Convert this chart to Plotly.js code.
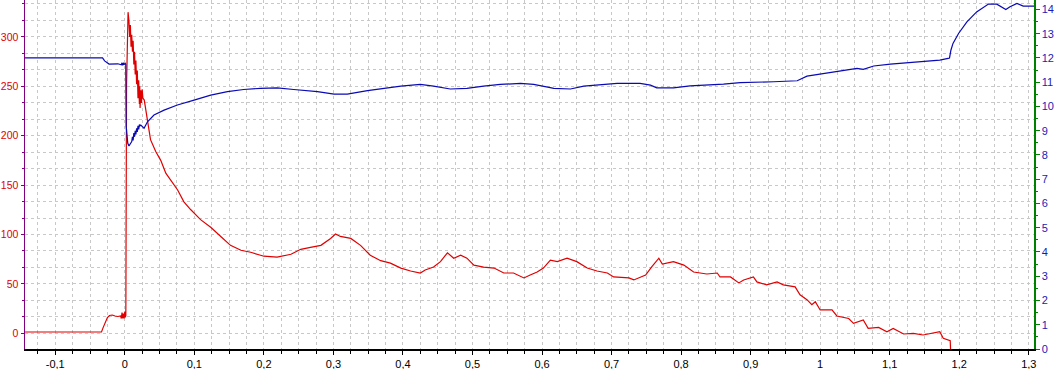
<!DOCTYPE html>
<html>
<head>
<meta charset="utf-8">
<script src="https://cdn.plot.ly/plotly-3.0.1.min.js"></script>
<style>
html,body{margin:0;padding:0;background:#fff;}
#chart{width:1054px;height:369px;}
</style>
</head>
<body>
<div id="chart"></div>
<script>
// ---- data ----
const redX = [-0.148,-0.0335,-0.031,-0.028,-0.025,-0.022,-0.018,-0.014,-0.010,-0.006,-0.005,-0.004,-0.003,-0.002,-0.001,0,0.0008,0.0015,0.0025,0.0035,0.0047,
  0.006,0.007,0.008,0.009,0.010,0.011,0.012,0.013,0.014,0.015,0.016,0.017,0.018,0.019,0.020,0.021,0.0215,0.022,0.023,0.024,0.025,0.026,0.028,
  0.0326,0.037,0.0445,0.0517,0.059,0.066,0.076,0.085,0.095,0.109,0.124,0.138,0.152,0.167,0.181,0.2,0.219,0.239,0.253,0.267,0.282,0.296,0.303,0.310,
  0.325,0.339,0.353,0.368,0.382,0.397,0.411,0.425,0.432,0.444,0.454,0.464,0.473,0.483,0.492,0.502,0.516,0.531,0.545,0.559,0.574,0.583,0.593,0.602,
  0.612,0.622,0.636,0.650,0.665,0.679,0.694,0.703,0.713,0.725,0.732,0.749,0.758,0.768,0.773,0.789,0.804,0.818,0.837,0.852,0.856,0.871,0.883,0.890,
  0.904,0.909,0.923,0.938,0.947,0.964,0.971,0.981,0.988,0.993,1.0,1.017,1.024,1.041,1.048,1.062,1.069,1.084,1.096,1.105,1.120,1.134,1.148,1.172,
  1.177,1.187,1.188];
const redY = [1.3,1.3,6,12,16,18,18.5,17.5,17,17.5,15,21,15,20,15,22,16,18,250,310,325,
  316,300,312,290,302,285,296,272,285,262,276,252,266,238,256,232,250,228,246,233,247,238,236,
  216,196,184,175,162,155,145,133,125,115,107,98,89,84,82,78,77,80,85,87,89,96,100.5,98,
  96,89,79,73.5,71,66,63,61,64,67,72.5,81.5,76,79,76,69,67,66,61,61,56,59,62,66,
  74,72.5,76,72.5,66,63,61,57,56.7,56,54,59,67.4,76,70,72.5,69,62,60,61,57,57,51,54,
  57,52,49,52,49,47,39,34,29,32,23.6,23.6,17.5,15,10,13.5,5,6,1.6,5,-0.7,0,-1.7,1.6,
  -5,-7.5,-25];

const blueX = [-0.148,-0.032,-0.029,-0.0226,-0.010,-0.005,-0.004,-0.003,-0.002,-0.001,0.0005,0.0014,0.002,0.003,0.0043,0.006,0.008,0.010,
  0.011,0.012,0.013,0.014,0.015,0.016,0.017,0.018,0.019,0.020,0.021,0.022,0.023,0.0277,0.0326,0.042,0.0565,0.0757,0.0996,0.1236,0.1476,
  0.171,0.195,0.219,0.243,0.253,0.277,0.301,0.320,0.349,0.373,0.397,0.425,0.444,0.468,0.492,0.516,0.540,0.569,0.588,0.610,0.617,0.641,
  0.660,0.708,0.741,0.756,0.765,0.789,0.813,0.861,0.885,0.933,0.967,0.981,1.005,1.029,1.053,1.062,1.077,1.101,1.125,1.148,1.172,1.184,
  1.186,1.188,1.191,1.199,1.211,1.225,1.242,1.254,1.267,1.273,1.283,1.292,1.3075];
const blueY = [12.0,12.0,11.88,11.75,11.76,11.72,11.80,11.70,11.80,11.72,11.78,11.74,9.2,8.8,8.48,8.37,8.45,8.55,
  8.75,8.6,8.9,8.75,9.0,8.85,9.1,8.95,9.2,9.05,9.25,9.2,9.23,9.10,9.37,9.65,9.85,10.06,10.26,10.47,10.61,
  10.70,10.75,10.77,10.70,10.68,10.61,10.51,10.51,10.65,10.75,10.84,10.91,10.84,10.72,10.75,10.84,10.91,10.95,10.91,10.79,10.75,10.72,
  10.84,10.95,10.95,10.88,10.77,10.77,10.85,10.92,10.98,11.02,11.06,11.25,11.36,11.46,11.57,11.53,11.67,11.75,11.80,11.87,11.91,11.98,
  12.0,12.32,12.60,13.01,13.49,13.90,14.22,14.22,14.00,14.11,14.25,14.14,14.14];

const xTickVals = [-0.1,0,0.1,0.2,0.3,0.4,0.5,0.6,0.7,0.8,0.9,1,1.1,1.2,1.3];
const xTickText = ["-0,1","0","0,1","0,2","0,3","0,4","0,5","0,6","0,7","0,8","0,9","1","1,1","1,2","1,3"];

// ---- chart ----
const gridC = '#c8c8c8';
const fontFam = 'Liberation Sans, Arial, sans-serif';

const traces = [
  {x: redX, y: redY, type: 'scatter', mode: 'lines', yaxis: 'y',
   line: {color: '#e00000', width: 1.2}, hoverinfo: 'skip'},
  {x: blueX, y: blueY, type: 'scatter', mode: 'lines', yaxis: 'y2',
   line: {color: '#0a0ab4', width: 1.2}, hoverinfo: 'skip'}
];

const layout = {
  width: 1054, height: 369,
  margin: {l: 25, r: 20, t: 0, b: 20, pad: 0},
  paper_bgcolor: '#ffffff', plot_bgcolor: '#ffffff',
  showlegend: false,
  font: {family: fontFam, size: 11, color: '#000'},
  xaxis: {
    range: [-0.1435, 1.3075], autorange: false,
    tickmode: 'array', tickvals: xTickVals, ticktext: xTickText,
    ticks: 'outside', ticklen: 4, tickcolor: '#000',
    showline: true, linecolor: '#000', linewidth: 1.5,
    showgrid: true, gridcolor: gridC, griddash: 'dot', gridwidth: 1,
    zeroline: false,
    minor: {tickmode: 'linear', tick0: 0, dtick: 0.025, ticks: 'outside', ticklen: 3, tickcolor: '#000',
            showgrid: true, gridcolor: gridC, griddash: 'dot', gridwidth: 1},
    tickfont: {family: fontFam, size: 11, color: '#000'}
  },
  yaxis: {
    range: [-15.9, 337.3], autorange: false,
    tickmode: 'linear', tick0: 0, dtick: 50,
    ticks: 'outside', ticklen: 3, tickcolor: '#800080',
    showline: true, linecolor: '#800080', linewidth: 1.5,
    showgrid: true, gridcolor: gridC, griddash: 'dot', gridwidth: 1,
    zeroline: false,
    minor: {tickmode: 'linear', tick0: 0, dtick: 50/3, ticks: 'outside', ticklen: 2, tickcolor: '#800080',
            showgrid: true, gridcolor: gridC, griddash: 'dot', gridwidth: 1},
    tickfont: {family: fontFam, size: 10.5, color: '#e00000'}
  },
  yaxis2: {
    overlaying: 'y', side: 'right',
    range: [0, 14.39], autorange: false,
    tickmode: 'linear', tick0: 0, dtick: 1,
    ticks: 'outside', ticklen: 4, tickcolor: '#008000',
    showline: true, linecolor: '#008000', linewidth: 1.5,
    showgrid: false, zeroline: false,
    minor: {tickmode: 'linear', tick0: 0, dtick: 0.5, ticks: 'outside', ticklen: 2, tickcolor: '#008000', showgrid: false},
    tickfont: {family: fontFam, size: 11, color: '#1a1ab8'}
  }
};

Plotly.newPlot('chart', traces, layout, {staticPlot: true, displayModeBar: false});
</script>
</body>
</html>
